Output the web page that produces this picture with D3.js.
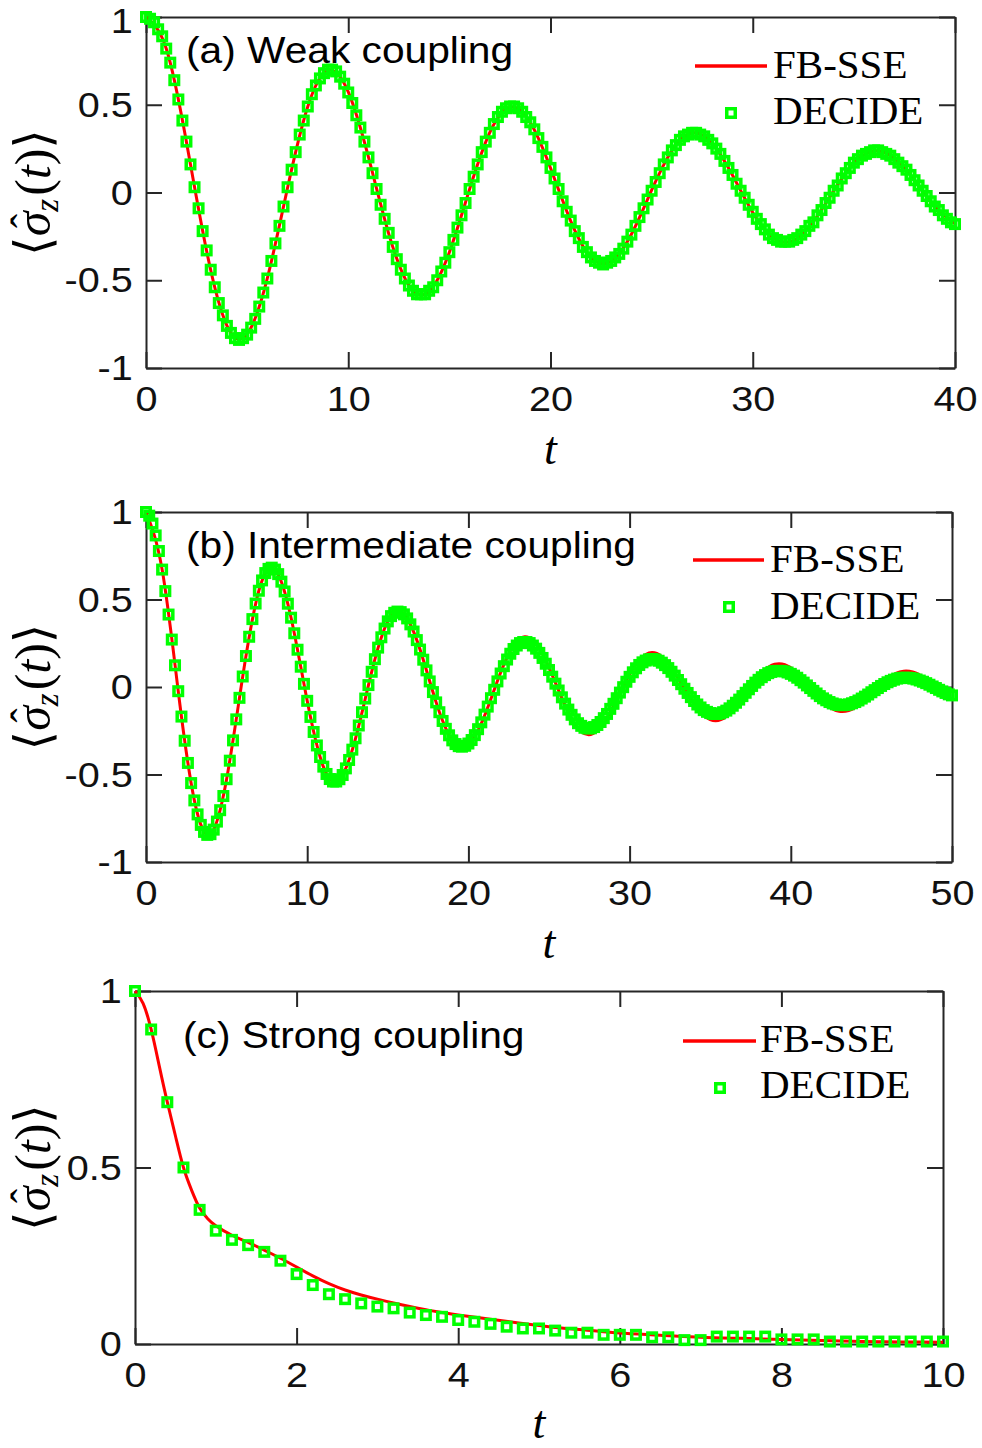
<!DOCTYPE html>
<html>
<head>
<meta charset="utf-8">
<script src="https://cdn.jsdelivr.net/npm/d3@7.9.0/dist/d3.min.js"></script>
<style>
  body { margin: 0; background: #fff; }
  svg { display: block; }
</style>
</head>
<body>
<svg id="fig" width="982" height="1448"></svg>
<script>
// ---- data ----
// DECIDE markers, one every 0.2 in t
const decideStep = 0.2;

const decideA = [
  1.00, 0.99, 0.97, 0.93, 0.89, 0.82, 0.74, 0.64, 0.53, 0.41, 0.29,
  0.16, 0.03, -0.09, -0.22, -0.33, -0.44, -0.54, -0.63, -0.70, -0.76,
  -0.80, -0.83, -0.84, -0.83, -0.81, -0.77, -0.72, -0.65, -0.57, -0.49,
  -0.39, -0.29, -0.19, -0.08, 0.03, 0.13, 0.23, 0.33, 0.41, 0.49,
  0.56, 0.61, 0.65, 0.68, 0.70, 0.70, 0.69, 0.66, 0.62, 0.57,
  0.51, 0.44, 0.37, 0.29, 0.20, 0.11, 0.02, -0.07, -0.15, -0.23,
  -0.31, -0.38, -0.44, -0.49, -0.53, -0.56, -0.58, -0.58, -0.58, -0.56,
  -0.54, -0.50, -0.45, -0.40, -0.34, -0.27, -0.20, -0.13, -0.06, 0.02,
  0.09, 0.16, 0.23, 0.29, 0.34, 0.39, 0.43, 0.46, 0.48, 0.49,
  0.49, 0.48, 0.46, 0.43, 0.40, 0.36, 0.31, 0.26, 0.20, 0.14,
  0.08, 0.02, -0.05, -0.11, -0.16, -0.22, -0.26, -0.31, -0.34, -0.37,
  -0.39, -0.40, -0.41, -0.40, -0.39, -0.37, -0.35, -0.32, -0.28, -0.24,
  -0.19, -0.14, -0.09, -0.04, 0.01, 0.06, 0.11, 0.16, 0.20, 0.24,
  0.27, 0.30, 0.32, 0.33, 0.34, 0.34, 0.33, 0.32, 0.30, 0.28,
  0.25, 0.22, 0.18, 0.14, 0.10, 0.05, 0.01, -0.03, -0.07, -0.11,
  -0.15, -0.18, -0.21, -0.24, -0.26, -0.27, -0.28, -0.28, -0.28, -0.27,
  -0.26, -0.24, -0.22, -0.19, -0.17, -0.13, -0.10, -0.06, -0.03, 0.01,
  0.04, 0.08, 0.11, 0.14, 0.17, 0.19, 0.21, 0.22, 0.23, 0.24,
  0.24, 0.23, 0.22, 0.21, 0.19, 0.17, 0.15, 0.13, 0.10, 0.07,
  0.04, 0.01, -0.02, -0.05, -0.08, -0.10, -0.13, -0.15, -0.17, -0.18
];

// FB-SSE curve, sampled at t = 0, 1, 2, ...
const fbsseA = [
  1.000, 0.821, 0.288, -0.335, -0.758, -0.807, -0.488, 0.027, 0.490, 0.696, 0.573,
  0.201, -0.234, -0.529, -0.563, -0.340, 0.019, 0.342, 0.486, 0.399, 0.140,
  -0.163, -0.369, -0.392, -0.238, 0.013, 0.238, 0.339, 0.279, 0.098, -0.114,
  -0.258, -0.274, -0.166, 0.009, 0.167, 0.237, 0.194, 0.068, -0.079, -0.179
];

const decideB = [
  1.000, 0.979, 0.934, 0.866, 0.777, 0.671, 0.548, 0.414, 0.271, 0.124,
  -0.024, -0.169, -0.307, -0.434, -0.549, -0.648, -0.728, -0.788, -0.828, -0.845,
  -0.841, -0.815, -0.769, -0.704, -0.623, -0.527, -0.421, -0.305, -0.185, -0.062,
  0.060, 0.177, 0.287, 0.388, 0.477, 0.550, 0.609, 0.651, 0.675, 0.682,
  0.671, 0.645, 0.602, 0.546, 0.476, 0.396, 0.307, 0.213, 0.116, 0.018,
  -0.079, -0.171, -0.257, -0.334, -0.400, -0.455, -0.497, -0.526, -0.540, -0.540,
  -0.527, -0.503, -0.465, -0.417, -0.358, -0.293, -0.220, -0.144, -0.066, 0.011,
  0.087, 0.159, 0.225, 0.284, 0.334, 0.375, 0.405, 0.424, 0.431, 0.428,
  0.415, 0.392, 0.358, 0.317, 0.268, 0.214, 0.156, 0.095, 0.032, -0.029,
  -0.088, -0.144, -0.194, -0.239, -0.276, -0.305, -0.326, -0.338, -0.341, -0.336,
  -0.323, -0.303, -0.275, -0.241, -0.202, -0.158, -0.112, -0.064, -0.016, 0.032,
  0.077, 0.119, 0.157, 0.190, 0.217, 0.237, 0.251, 0.257, 0.257, 0.251,
  0.237, 0.219, 0.195, 0.166, 0.133, 0.097, 0.059, 0.019, -0.020, -0.059,
  -0.095, -0.129, -0.159, -0.185, -0.207, -0.222, -0.233, -0.237, -0.236, -0.229,
  -0.217, -0.200, -0.178, -0.154, -0.125, -0.096, -0.064, -0.032, -0.001, 0.030,
  0.058, 0.084, 0.107, 0.126, 0.141, 0.151, 0.158, 0.160, 0.157, 0.150,
  0.139, 0.125, 0.108, 0.087, 0.065, 0.040, 0.016, -0.010, -0.034, -0.058,
  -0.080, -0.100, -0.117, -0.132, -0.142, -0.149, -0.154, -0.154, -0.151, -0.144,
  -0.135, -0.122, -0.107, -0.090, -0.072, -0.052, -0.033, -0.013, 0.006, 0.025,
  0.041, 0.056, 0.068, 0.079, 0.086, 0.091, 0.092, 0.092, 0.089, 0.083,
  0.075, 0.065, 0.053, 0.039, 0.025, 0.009, -0.006, -0.022, -0.037, -0.052,
  -0.065, -0.076, -0.086, -0.094, -0.099, -0.103, -0.104, -0.102, -0.099, -0.093,
  -0.086, -0.077, -0.066, -0.055, -0.043, -0.030, -0.018, -0.006, 0.006, 0.017,
  0.027, 0.035, 0.042, 0.048, 0.051, 0.053, 0.053, 0.051, 0.048, 0.043,
  0.037, 0.030, 0.022, 0.013, 0.003, -0.006, -0.016, -0.025, -0.034, -0.042,
  -0.048
];

const fbsseB = [
  1.000, 0.671, -0.024, -0.648, -0.841, -0.527, 0.060, 0.550, 0.671, 0.396, -0.079,
  -0.455, -0.527, -0.293, 0.087, 0.375, 0.415, 0.214, -0.088, -0.305, -0.329,
  -0.165, 0.083, 0.261, 0.267, 0.111, -0.106, -0.255, -0.250, -0.110, 0.072,
  0.186, 0.173, 0.053, -0.096, -0.186, -0.169, -0.064, 0.060, 0.130, 0.110,
  0.019, -0.085, -0.139, -0.117, -0.038, 0.048, 0.090, 0.068, -0.001, -0.073
];

const decideC = [
  1.000, 0.891, 0.685, 0.500, 0.380, 0.321, 0.295, 0.280, 0.261, 0.236,
  0.198, 0.167, 0.141, 0.127, 0.115, 0.106, 0.101, 0.089, 0.082, 0.077,
  0.068, 0.063, 0.057, 0.049, 0.044, 0.044, 0.038, 0.032, 0.032, 0.026,
  0.026, 0.026, 0.019, 0.019, 0.011, 0.011, 0.021, 0.021, 0.021, 0.021,
  0.013, 0.013, 0.013, 0.007, 0.007, 0.007, 0.007, 0.007, 0.007, 0.007,
  0.007
];

const fbsseTimesC = [
  0, 0.1, 0.2, 0.3, 0.4, 0.5, 0.6, 0.7, 0.8, 0.9, 1.0, 1.2, 1.4, 1.6, 1.8,
  2.0, 2.2, 2.4, 2.6, 2.8, 3.0, 3.2, 3.4, 3.6, 3.8, 4.0, 4.4, 4.8, 5.2, 5.6,
  6.0, 6.5, 7.0, 7.5, 8.0, 8.5, 9.0, 9.5, 10.0
];
const fbsseC = [
  1.000, 0.965, 0.891, 0.788, 0.685, 0.590, 0.500, 0.436, 0.385, 0.355, 0.335, 0.308, 0.288, 0.266, 0.243,
  0.218, 0.193, 0.171, 0.153, 0.139, 0.127, 0.116, 0.106, 0.097, 0.089, 0.082, 0.070, 0.058, 0.047, 0.039,
  0.031, 0.025, 0.019, 0.016, 0.013, 0.010, 0.007, 0.006, 0.005
];

const xTicksA = [0, 10, 20, 30, 40];
const xTicksB = [0, 10, 20, 30, 40, 50];
const xTicksC = [0, 2, 4, 6, 8, 10];
const yTicksAB = [-1, -0.5, 0, 0.5, 1];
const yTicksC = [0, 0.5, 1];

const titles = ['(a) Weak coupling', '(b) Intermediate coupling', '(c) Strong coupling'];
const legendLabels = ['FB-SSE', 'DECIDE'];

// ---- drawing ----
const svg = d3.select('#fig');
const sans = '"Liberation Sans", Arial, Helvetica, sans-serif';
const serif = '"Liberation Serif", "DejaVu Serif", "Times New Roman", serif';
const axisColor = '#262626';
const stretch = 1.1;
const tickLen = 16;
const ms = 8.5;

const fmt = d => (d < 0 ? '-' + Math.abs(d) : String(d));

function drawPanel(p) {
  const x = d3.scaleLinear().domain(p.xDomain).range([p.left, p.right]);
  const y = d3.scaleLinear().domain(p.yDomain).range([p.bottom, p.top]);
  const g = svg.append('g');

  const styleAxis = sel => {
    sel.select('.domain').attr('stroke', axisColor).attr('stroke-width', 2);
    sel.selectAll('.tick line').attr('stroke', axisColor).attr('stroke-width', 2);
    sel.selectAll('.tick text')
      .attr('fill', '#111')
      .style('font-family', sans)
      .style('font-size', '36px')
      .attr('transform', `scale(${stretch},1)`);
  };

  g.append('g').attr('transform', `translate(0,${p.bottom})`)
    .call(d3.axisBottom(x).tickValues(p.xTicks).tickSizeInner(-tickLen).tickSizeOuter(0).tickPadding(17).tickFormat(fmt))
    .call(styleAxis);
  g.append('g').attr('transform', `translate(0,${p.top})`)
    .call(d3.axisTop(x).tickValues(p.xTicks).tickSizeInner(-tickLen).tickSizeOuter(0).tickFormat(() => ''))
    .call(styleAxis);
  const leftAxis = g.append('g').attr('transform', `translate(${p.left},0)`)
    .call(d3.axisLeft(y).tickValues(p.yTicks).tickSizeInner(-tickLen).tickSizeOuter(0).tickPadding(p.yPad).tickFormat(fmt))
    .call(styleAxis);
  // keep the topmost label of the first panel inside the page
  if (p.nudgeTop) {
    leftAxis.selectAll('.tick text').filter(d => d === p.yDomain[1]).attr('dy', '0.42em');
  }
  g.append('g').attr('transform', `translate(${p.right},0)`)
    .call(d3.axisRight(y).tickValues(p.yTicks).tickSizeInner(-tickLen).tickSizeOuter(0).tickFormat(() => ''))
    .call(styleAxis);

  // FB-SSE line
  g.append('path')
    .datum(p.fbsse)
    .attr('fill', 'none')
    .attr('stroke', '#ff0000')
    .attr('stroke-width', 3)
    .attr('d', d3.line().x(d => x(d[0])).y(d => y(d[1])).curve(d3.curveNatural));

  // DECIDE markers
  g.append('g').selectAll('rect')
    .data(p.decide)
    .join('rect')
    .attr('x', d => x(d[0]) - ms / 2)
    .attr('y', d => y(d[1]) - ms / 2)
    .attr('width', ms)
    .attr('height', ms)
    .attr('fill', 'none')
    .attr('stroke', '#00ff00')
    .attr('stroke-width', 3.5);

  // title
  g.append('text')
    .attr('transform', `translate(${p.titleX},${p.titleY}) scale(${stretch},1)`)
    .style('font-family', sans)
    .style('font-size', '37px')
    .attr('fill', '#000')
    .text(p.title);

  // legend
  const lg = p.legend;
  g.append('line')
    .attr('x1', lg.x1).attr('x2', lg.x2).attr('y1', lg.y).attr('y2', lg.y)
    .attr('stroke', '#ff0000').attr('stroke-width', 3.5);
  g.append('rect')
    .attr('x', lg.sqX - ms / 2).attr('y', lg.sqY - ms / 2)
    .attr('width', ms).attr('height', ms)
    .attr('fill', 'none').attr('stroke', '#00ff00').attr('stroke-width', 3.5);
  g.selectAll('text.leg')
    .data(legendLabels)
    .join('text')
    .attr('class', 'leg')
    .attr('x', lg.textX)
    .attr('y', (d, i) => i === 0 ? lg.base1 : lg.base2)
    .style('font-family', serif)
    .style('font-size', '41px')
    .attr('fill', '#000')
    .text(d => d);

  // x label
  g.append('text')
    .attr('x', (p.left + p.right) / 2)
    .attr('y', p.xLabelY)
    .attr('text-anchor', 'middle')
    .style('font-family', serif)
    .style('font-style', 'italic')
    .style('font-size', '46px')
    .text('t');

  // y label  <sigma_z(t)> with a hat on sigma
  const yg = g.append('g')
    .attr('transform', `translate(50,${(p.top + p.bottom) / 2}) rotate(-90)`);
  const yl = yg.append('text')
    .attr('text-anchor', 'middle')
    .style('font-family', serif)
    .style('font-size', '50px');
  yl.append('tspan').text('\u27E8');
  yl.append('tspan').style('font-style', 'italic').text('\u03C3');
  yl.append('tspan').style('font-style', 'italic').style('font-size', '33px').attr('dy', 8).text('z');
  yl.append('tspan').attr('dy', -8).attr('dx', 3).text('(');
  yl.append('tspan').style('font-style', 'italic').text('t');
  yl.append('tspan').text(')\u27E9');
  const sig = yl.node().getExtentOfChar(1);
  yg.append('text')
    .attr('x', sig.x + sig.width / 2 + 3)
    .attr('y', sig.y + sig.height * 0.62)
    .attr('text-anchor', 'middle')
    .style('font-family', serif)
    .style('font-size', '42px')
    .text('\u02C6');
}

const withTimes = arr => arr.map((v, i) => [i * decideStep, v]);

drawPanel({
  xDomain: [0, 40], yDomain: [-1, 1],
  left: 146, right: 955, top: 17, bottom: 368,
  xTicks: xTicksA, yTicks: yTicksAB, yPad: 12, nudgeTop: true,
  decide: withTimes(decideA),
  fbsse: fbsseA.map((v, i) => [i, v]),
  title: titles[0], titleX: 186, titleY: 63,
  legend: { x1: 695, x2: 767, y: 66, sqX: 731, sqY: 113, textX: 773, base1: 78, base2: 124 },
  xLabelY: 464
});

drawPanel({
  xDomain: [0, 50], yDomain: [-1, 1],
  left: 146, right: 952, top: 512, bottom: 862,
  xTicks: xTicksB, yTicks: yTicksAB, yPad: 12,
  decide: withTimes(decideB),
  fbsse: fbsseB.map((v, i) => [i, v]),
  title: titles[1], titleX: 186, titleY: 558,
  legend: { x1: 693, x2: 764, y: 560, sqX: 729, sqY: 607, textX: 770, base1: 572, base2: 619 },
  xLabelY: 958
});

drawPanel({
  xDomain: [0, 10], yDomain: [0, 1],
  left: 135, right: 943, top: 991, bottom: 1344,
  xTicks: xTicksC, yTicks: yTicksC, yPad: 12,
  decide: withTimes(decideC),
  fbsse: fbsseTimesC.map((t, i) => [t, fbsseC[i]]),
  title: titles[2], titleX: 183, titleY: 1048,
  legend: { x1: 683, x2: 756, y: 1041, sqX: 720, sqY: 1088, textX: 760, base1: 1052, base2: 1098 },
  xLabelY: 1438
});
</script>
</body>
</html>
